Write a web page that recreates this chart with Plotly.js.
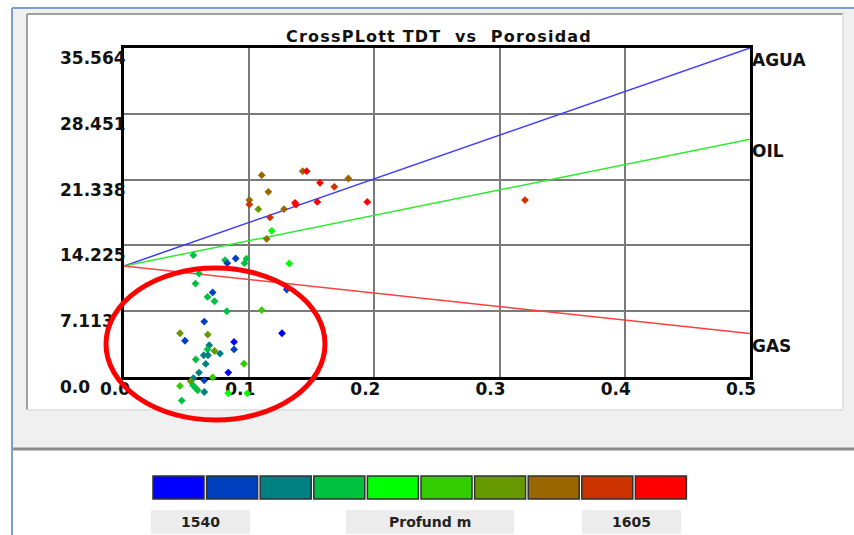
<!DOCTYPE html>
<html><head><meta charset="utf-8">
<script src="https://cdn.plot.ly/plotly-3.0.1.min.js"></script>
<style>html,body{margin:0;padding:0;background:#fff;overflow:hidden}#chart{width:854px;height:535px}.gtitle{letter-spacing:1.2px}</style>
</head><body><div id="chart"></div>
<script>
// ---- data ----
const porosity = [0.110,0.1427,0.1459,0.1792,0.1565,0.168,0.1153,0.1001,0.1001,0.1073,0.1366,0.1374,0.1278,0.1544,0.1943,0.3203,0.1166,0.118,0.114,
  0.0554,0.0807,0.0892,0.0825,0.0978,0.0962,0.132,0.0599,0.0571,0.0708,0.0667,0.0723,0.0821,0.110,0.130,0.0641,
  0.0447,0.0669,0.0487,0.1262,0.0681,0.0879,0.0879,0.0667,0.0723,0.0767,0.0637,0.0671,0.0573,0.0653,0.0958,0.0599,0.0833,0.0554,0.0641,0.0708,0.0533,0.0447,0.0551,0.0571,0.0589,0.0641,0.0832,0.0984,0.0461];
const tdt = [21.82,22.25,22.25,21.46,20.99,20.56,20.02,19.12,18.65,18.14,18.83,18.63,18.14,18.93,18.93,19.12,17.25,15.80,14.93,
  13.17,12.63,12.81,12.30,12.79,12.30,12.27,11.19,10.10,9.14,8.66,8.19,7.11,7.22,9.46,5.99,
  4.73,4.59,3.92,4.73,3.43,3.79,2.98,2.98,2.81,2.53,2.35,2.35,1.89,1.41,1.43,0.48,0.48,-0.12,-0.36,-0.03,-0.47,-0.97,-0.90,-1.19,-1.44,-1.62,-1.76,-1.76,-2.55];
const depth = [1589,1589,1602,1589,1602,1595,1589,1589,1595,1582,1602,1602,1589,1602,1602,1595,1595,1569,1589,
  1563,1563,1550,1550,1563,1563,1569,1563,1563,1550,1563,1563,1563,1576,1550,1550,
  1582,1582,1550,1543,1556,1543,1550,1563,1582,1556,1556,1556,1563,1556,1576,1556,1543,1556,1550,1576,1582,1576,1563,1563,1563,1556,1569,1569,1563];
const lineX = [0, 0.5];
const aguaY = [12.0, 35.564];
const oilY = [12.0, 25.7];
const gasY = [12.0, 4.7];
const lineNames = ['AGUA', 'OIL', 'GAS'];
const yTickVals = [0, 7.1128, 14.2256, 21.3384, 28.4512, 35.564];
const yTickText = ['0.0', '7.113', '14.225', '21.338', '28.451', '35.564'];
const xTickVals = [0, 0.1, 0.2, 0.3, 0.4, 0.5];
const xTickText = ['0.0', '0.1', '0.2', '0.3', '0.4', '0.5'];
const depthMin = 1540, depthMax = 1605;
const legendLabels = ['1540', 'Profund m', '1605'];
const chartTitle = 'CrossPLott TDT\u00a0\u00a0vs\u00a0\u00a0Porosidad';

// ---- styles / geometry ----
const palette = ['#0000ff','#0040c0','#008080','#00c040','#00ff00','#33cc00','#669900','#996600','#cc3300','#ff0000'];
const lineColors = ['#3c3cff', '#2eea2e', '#ff4040'];
const W = 854, H = 535, L0 = 59, L = 124, R = 750, T = 48, B = 377, B2 = 408;
const yMax = yTickVals[yTickVals.length - 1];
const y2Min = -(B2 - B) * yMax / (B - T);
const px = x => (x - L0) / (R - L0);
const py = y => (B2 - y) / (B2 - T);

const nBins = palette.length;
const binW = (depthMax - depthMin) / nBins;
const ptColors = depth.map(d => palette[Math.max(0, Math.min(nBins - 1, Math.floor((d - depthMin) / binW)))]);

const tickFont = {family: 'DejaVu Sans', size: 17, color: '#111', weight: 'bold'};

const traces = [aguaY, oilY, gasY].map((ys, i) => ({
  x: lineX, y: ys, mode: 'lines', type: 'scatter', name: lineNames[i], xaxis: 'x', yaxis: 'y',
  line: {color: lineColors[i], width: 1.5}, hoverinfo: 'skip'
}));
traces.push({
  x: porosity, y: tdt, mode: 'markers', type: 'scatter', name: 'Profund', xaxis: 'x2', yaxis: 'y2',
  marker: {symbol: 'diamond', size: 6, color: ptColors, line: {width: 0}},
  cliponaxis: false
});
// carrier for the left-aligned y tick label axis
traces.push({x: [], y: [], mode: 'markers', type: 'scatter', xaxis: 'x', yaxis: 'y3', hoverinfo: 'skip'});

const shapes = [
  {type: 'rect', xref: 'paper', yref: 'paper', x0: px(12), x1: px(854), y0: py(450), y1: py(8), fillcolor: '#f0f0f0', line: {width: 0}, layer: 'below'},
  {type: 'rect', xref: 'paper', yref: 'paper', x0: px(27), x1: px(843), y0: py(410), y1: py(14), fillcolor: '#ffffff', line: {width: 0}, layer: 'below'},
  {type: 'line', xref: 'paper', yref: 'paper', x0: px(27), x1: px(27), y0: py(410), y1: py(14), line: {color: '#a0a0a0', width: 2}, layer: 'below'},
  {type: 'line', xref: 'paper', yref: 'paper', x0: px(27), x1: px(843), y0: py(14), y1: py(14), line: {color: '#a0a0a0', width: 2}, layer: 'below'},
  {type: 'line', xref: 'paper', yref: 'paper', x0: px(27), x1: px(843), y0: py(410), y1: py(410), line: {color: '#e2e2e2', width: 2}, layer: 'below'},
  {type: 'line', xref: 'paper', yref: 'paper', x0: px(843), x1: px(843), y0: py(410), y1: py(14), line: {color: '#e2e2e2', width: 2}, layer: 'below'},
  {type: 'rect', xref: 'paper', yref: 'paper', x0: px(13), x1: px(854), y0: py(535), y1: py(450), fillcolor: '#ffffff', line: {width: 0}, layer: 'below'},
  {type: 'line', xref: 'paper', yref: 'paper', x0: px(13), x1: px(854), y0: py(449), y1: py(449), line: {color: '#8c8c8c', width: 3}, layer: 'below'},
  {type: 'line', xref: 'paper', yref: 'paper', x0: px(12), x1: px(12), y0: py(535), y1: py(8), line: {color: '#7f9fd0', width: 2}, layer: 'below'},
  {type: 'line', xref: 'paper', yref: 'paper', x0: px(12), x1: px(854), y0: py(8), y1: py(8), line: {color: '#7f9fd0', width: 2}, layer: 'below'}
];
palette.forEach((c, k) => {
  const x0 = 153 + k * 53.6;
  shapes.push({type: 'rect', xref: 'paper', yref: 'paper', x0: px(x0), x1: px(x0 + 51), y0: py(499), y1: py(476),
    fillcolor: c, line: {color: '#303030', width: 1.5}, layer: 'above'});
});
const labelBoxes = [[151, 250], [346, 514], [582, 681]];
labelBoxes.forEach(b => shapes.push({type: 'rect', xref: 'paper', yref: 'paper', x0: px(b[0]), x1: px(b[1]), y0: py(534), y1: py(510),
  fillcolor: '#ececec', line: {width: 0}, layer: 'below'}));
shapes.push({type: 'circle', xref: 'paper', yref: 'paper', x0: px(106), x1: px(325), y0: py(420), y1: py(268),
  line: {color: '#ff0000', width: 5}, fillcolor: 'rgba(0,0,0,0)', layer: 'above'});

const annotations = [aguaY, oilY, gasY].map((ys, i) => ({
  x: lineX[1], y: ys[1], xref: 'x', yref: 'y', text: lineNames[i], showarrow: false,
  xanchor: 'left', yanchor: 'top', xshift: 0, yshift: 0,
  font: {family: 'DejaVu Sans', size: 17, color: '#111', weight: 'bold'}
}));
labelBoxes.forEach((b, i) => annotations.push({
  x: px((b[0] + b[1]) / 2), y: py(522), xref: 'paper', yref: 'paper', text: legendLabels[i], showarrow: false,
  xanchor: 'center', yanchor: 'middle', font: {family: 'DejaVu Sans', size: 14, color: '#222', weight: 'bold'}
}));

const xDomain = [px(L), 1];
const layout = {
  width: W, height: H,
  margin: {l: L0, r: W - R, t: T, b: H - B2, pad: 0},
  paper_bgcolor: '#ffffff', plot_bgcolor: 'rgba(0,0,0,0)',
  showlegend: false,
  title: {text: chartTitle, xref: 'container', x: 439 / W, xanchor: 'center', y: 1 - 36 / H, yanchor: 'middle',
    font: {family: 'DejaVu Sans', size: 16, color: '#111', weight: 'bold'}},
  xaxis: {range: [0, 0.5], domain: xDomain, tickvals: xTickVals, ticktext: xTickText, showline: true, mirror: true, anchor: 'y',
    linecolor: '#000', linewidth: 3, showgrid: true, gridcolor: '#7a7a7a', gridwidth: 2, zeroline: false,
    ticks: '', tickfont: tickFont, ticklabelshift: -9, ticklabelstandoff: -5, fixedrange: true},
  yaxis: {range: [0, yMax], domain: [py(B), 1], tickvals: yTickVals, showticklabels: false, showline: true, mirror: true, anchor: 'x',
    linecolor: '#000', linewidth: 3, showgrid: true, gridcolor: '#7a7a7a', gridwidth: 2, zeroline: false,
    ticks: '', fixedrange: true},
  yaxis3: {range: [0, yMax], overlaying: 'y', anchor: 'free', position: 0, side: 'right',
    tickvals: yTickVals, ticktext: yTickText, showline: false, showgrid: false, zeroline: false,
    ticks: '', tickfont: tickFont, ticklabelshift: 10, fixedrange: true},
  xaxis2: {range: [0, 0.5], overlaying: 'x', anchor: 'y2', visible: false, showgrid: false, zeroline: false, fixedrange: true},
  yaxis2: {range: [y2Min, yMax], domain: [0, 1], anchor: 'x2', visible: false, showgrid: false, zeroline: false, fixedrange: true},
  shapes: shapes, annotations: annotations
};
Plotly.newPlot('chart', traces, layout, {displayModeBar: false, staticPlot: true});
</script></body></html>
